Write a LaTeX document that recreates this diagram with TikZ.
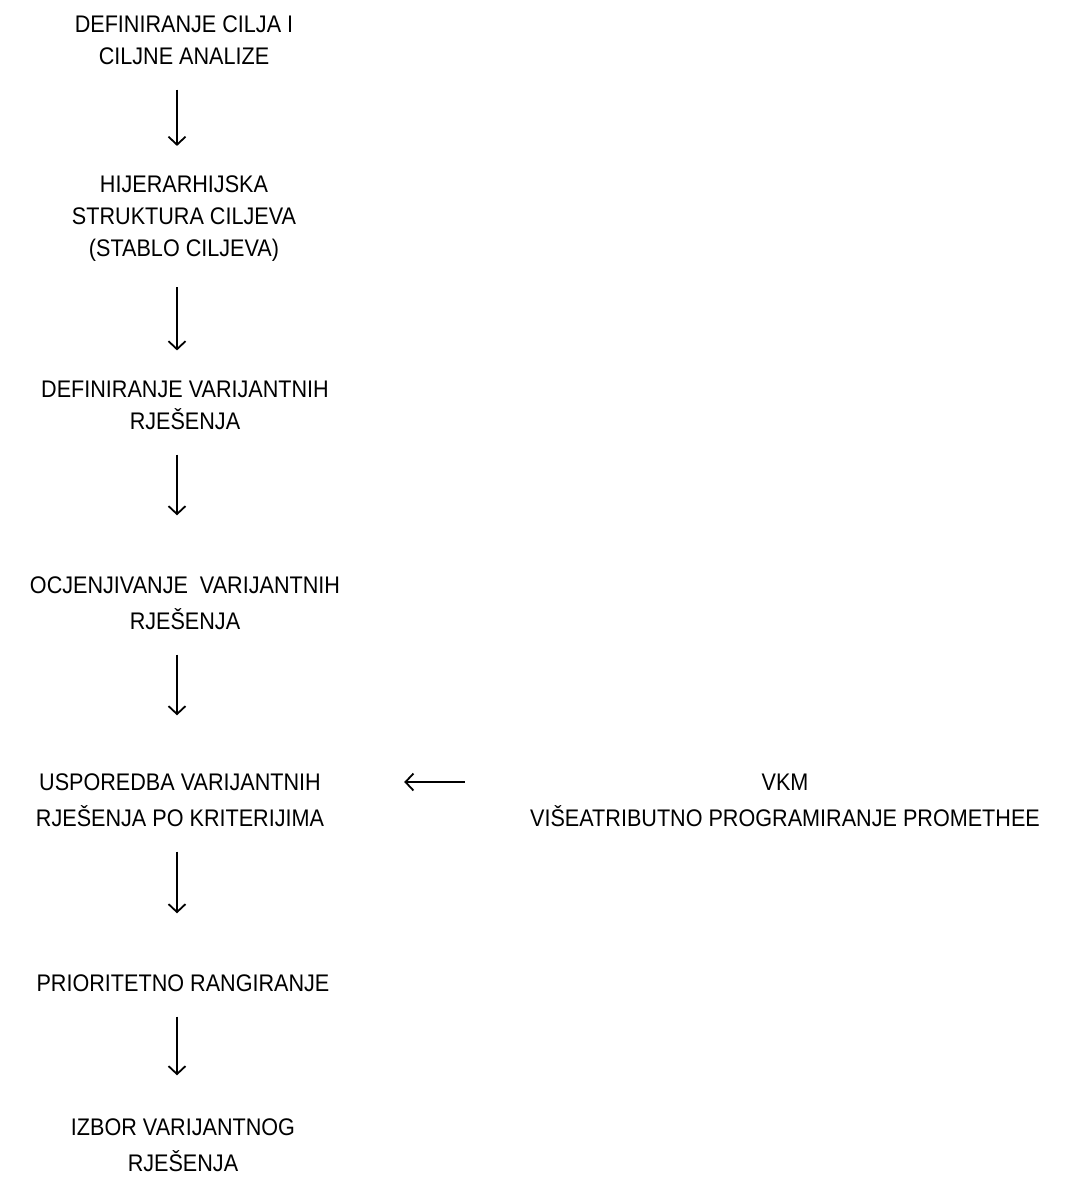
\documentclass[tikz,border=0pt]{standalone}
\usepackage{fontspec}
\setmainfont{Liberation Sans}[FakeStretch=0.9]
\usetikzlibrary{arrows.meta}
\tikzset{
	stepnode/.style={align=center, inner sep=0pt, font=\fontsize{24}{32}\selectfont},
	widenode/.style={stepnode, font=\fontsize{24}{36}\selectfont},
	flowarrow/.style={-{Straight Barb[length=8pt, width=17pt, line width=1.8pt]}, line width=1.8pt, shorten <=25pt}
}

\begin{document}
\begin{tikzpicture}[x=1pt, y=-1pt]
		\useasboundingbox (0,0) rectangle (1068,1187);

		\node[stepnode] at (184,40) (cilj)    {DEFINIRANJE CILJA I\\CILJNE ANALIZE};
		\node[stepnode] at (184,219) (stablo)    {HIJERARHIJSKA\\STRUKTURA CILJEVA\\(STABLO CILJEVA)};
		\node[stepnode] at (185,405) (def)    {DEFINIRANJE VARIJANTNIH\\RJEŠENJA};
		\node[widenode] at (185,603) (ocj)    {OCJENJIVANJE\ \ VARIJANTNIH\\RJEŠENJA};
		\node[widenode] at (180,800) (usp)    {USPOREDBA VARIJANTNIH\\RJEŠENJA PO KRITERIJIMA};
		\node[widenode] at (183,983) (rang)    {PRIORITETNO RANGIRANJE};
		\node[widenode] at (183,1145) (izbor)    {IZBOR VARIJANTNOG\\RJEŠENJA};

		\node[widenode] at (785,800) (vkm)    {VKM\\VIŠEATRIBUTNO PROGRAMIRANJE PROMETHEE};

        \draw[flowarrow, shorten >=30pt] ([xshift=-7pt]cilj.south) -- ([xshift=-7pt]cilj.south |- stablo.north);
        \draw[flowarrow, shorten >=30pt] ([xshift=-7pt]stablo.south) -- ([xshift=-7pt]stablo.south |- def.north);
        \draw[flowarrow, shorten >=61pt] ([xshift=-8pt]def.south) -- ([xshift=-8pt]def.south |- ocj.north);
        \draw[flowarrow, shorten >=58pt] ([xshift=-8pt]ocj.south) -- ([xshift=-8pt]ocj.south |- usp.north);
        \draw[flowarrow, shorten >=61pt] ([xshift=-3pt]usp.south) -- ([xshift=-3pt]usp.south |- rang.north);
        \draw[flowarrow, shorten >=43pt] ([xshift=-6pt]rang.south) -- ([xshift=-6pt]rang.south |- izbor.north);
        \draw[flowarrow, shorten <=65pt, shorten >=80pt] ([yshift=18pt]vkm.west) -- ([yshift=18pt]vkm.west -| usp.east);
	\end{tikzpicture}
\end{document}
